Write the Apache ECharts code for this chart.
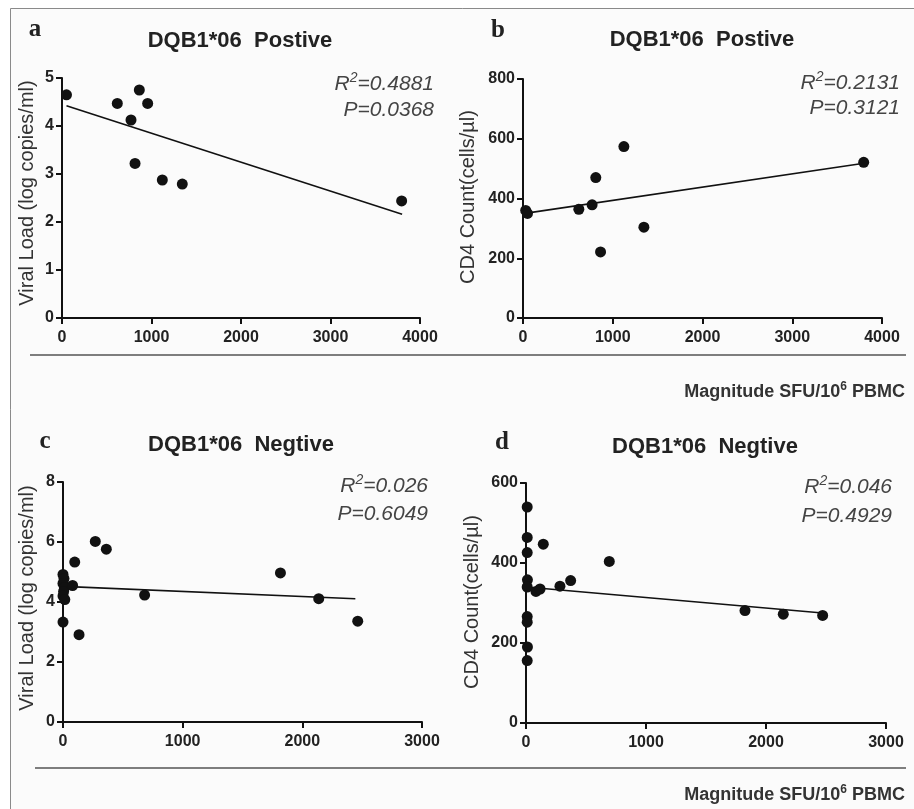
<!DOCTYPE html>
<html><head><meta charset="utf-8">
<script src="https://cdn.jsdelivr.net/npm/echarts@6/dist/echarts.min.js"></script>
<style>html,body{margin:0;padding:0;background:#fff}#c{width:914px;height:809px}</style>
</head><body><div id="c"></div>
<script>
// ---- data ----
var titles = ['DQB1*06  Postive', 'DQB1*06  Postive', 'DQB1*06  Negtive', 'DQB1*06  Negtive'];
var panelLetters = ['a', 'b', 'c', 'd'];
var yNames = ['Viral Load (log copies/ml)', 'CD4 Count(cells/\u00b5l)', 'Viral Load (log copies/ml)', 'CD4 Count(cells/\u00b5l)'];
var r2Text = ['0.4881', '0.2131', '0.026', '0.046'];
var pText = ['0.0368', '0.3121', '0.6049', '0.4929'];
var xMax = [4000, 4000, 3000, 3000];
var xInterval = [1000, 1000, 1000, 1000];
var yMax = [5, 800, 8, 600];
var yInterval = [1, 200, 2, 200];

var aSFU = [50, 618, 771, 816, 864, 957, 1121, 1344, 3795];
var aVL  = [4.65, 4.47, 4.125, 3.22, 4.75, 4.47, 2.875, 2.79, 2.44];
var aFitX = [50, 3800];
var aFitY = [4.42, 2.16];

var bSFU = [30, 50, 622, 770, 811, 864, 1124, 1347, 3796];
var bCD4 = [360, 350, 364, 379, 470, 221, 574, 304, 521];
var bFitX = [40, 3800];
var bFitY = [351, 518];

var cSFU = [0, 8, 0, 12, 5, 0, 15, 0, 80, 98, 134, 270, 362, 682, 1817, 2137, 2463];
var cVL  = [4.92, 4.78, 4.62, 4.48, 4.35, 4.2, 4.08, 3.33, 4.55, 5.33, 2.91, 6.02, 5.76, 4.23, 4.97, 4.11, 3.36];
var cFitX = [0, 2443];
var cFitY = [4.52, 4.11];

var dSFU = [10, 10, 10, 12, 10, 10, 10, 12, 10, 83, 117, 144, 283, 372, 694, 1825, 2144, 2472];
var dCD4 = [540, 464, 426, 358, 340, 266, 252, 190, 156, 329, 335, 447, 342, 356, 404, 281, 272, 269];
var dFitX = [0, 2472];
var dFitY = [340, 275];

var xTitle = 'Magnitude SFU/10';
// ---- build ----
function pairs(xs, ys) { return xs.map(function (x, i) { return [x, ys[i]]; }); }
var scatterData = [pairs(aSFU, aVL), pairs(bSFU, bCD4), pairs(cSFU, cVL), pairs(dSFU, dCD4)];
var fitData = [pairs(aFitX, aFitY), pairs(bFitX, bFitY), pairs(cFitX, cFitY), pairs(dFitX, dFitY)];

var grids = [
  {left: 62, top: 78, width: 358, height: 240},
  {left: 523, top: 79, width: 359, height: 239},
  {left: 63, top: 482, width: 359, height: 240},
  {left: 526, top: 483, width: 360, height: 240}
];
var layout = [
  {title: [240, 41], letter: [35, 30], yname: [27, 193], ann: [434, 84, 110]},
  {title: [702, 40], letter: [498, 31], yname: [468, 197], ann: [900, 83, 108]},
  {title: [241, 445], letter: [45, 442], yname: [27, 598], ann: [428, 486, 514]},
  {title: [705, 447], letter: [502, 443], yname: [472, 602], ann: [892, 487, 516]}
];
var axisCol = '#111';
var FF = 'Liberation Sans, Arial, sans-serif';
var labelStyle = {color: '#222', fontSize: 16, fontWeight: 'bold', fontFamily: FF,
  formatter: function (v) { return String(v); }};
var xAxes = [], yAxes = [], series = [];
var graphics = [
  {type: 'rect', z: -10, shape: {x: 10.5, y: 8.5, width: 920, height: 820}, style: {fill: '#fbfbfb', stroke: '#8a8a8a', lineWidth: 1}},
  {type: 'line', shape: {x1: 30, y1: 355, x2: 906, y2: 355}, style: {stroke: '#555', lineWidth: 1.5}},
  {type: 'line', shape: {x1: 35, y1: 768, x2: 906, y2: 768}, style: {stroke: '#555', lineWidth: 1.5}}
];
[392, 795].forEach(function (yy) {
  graphics.push({type: 'text', x: 905, y: yy, style: {
    text: '{t|' + xTitle + '}{s|6}{t| PBMC}', align: 'right', verticalAlign: 'middle',
    rich: {t: {fontSize: 18, fontFamily: FF, fill: '#333', fontWeight: 'bold'},
           s: {fontSize: 12, fontFamily: FF, fill: '#333', fontWeight: 'bold', padding: [0, 0, 11, 0]}}
  }});
});
for (var i = 0; i < 4; i++) {
  xAxes.push({
    type: 'value', gridIndex: i, min: 0, max: xMax[i], interval: xInterval[i],
    axisLine: {onZero: false, lineStyle: {color: axisCol, width: 2}},
    axisTick: {inside: false, length: 6, lineStyle: {color: axisCol, width: 2}},
    axisLabel: Object.assign({margin: 12}, labelStyle),
    splitLine: {show: false}
  });
  yAxes.push({
    type: 'value', gridIndex: i, min: 0, max: yMax[i], interval: yInterval[i],
    axisLine: {show: true, onZero: false, lineStyle: {color: axisCol, width: 2}},
    axisTick: {show: true, inside: false, length: 6, lineStyle: {color: axisCol, width: 2}},
    axisLabel: Object.assign({margin: 8}, labelStyle),
    splitLine: {show: false}
  });
  series.push({
    type: 'scatter', xAxisIndex: i, yAxisIndex: i, data: scatterData[i],
    symbol: 'circle', symbolSize: 11, itemStyle: {color: '#111', opacity: 1}, z: 3
  });
  series.push({
    type: 'line', xAxisIndex: i, yAxisIndex: i, data: fitData[i],
    symbol: 'none', lineStyle: {color: '#111', width: 1.6}, z: 2
  });
  var L = layout[i];
  graphics.push({type: 'text', x: L.title[0], y: L.title[1], style: {
    text: titles[i], align: 'center', verticalAlign: 'middle',
    font: 'bold 22px "Liberation Sans", Arial, sans-serif', fill: '#222'}});
  graphics.push({type: 'text', x: L.letter[0], y: L.letter[1], style: {
    text: panelLetters[i], align: 'center', verticalAlign: 'middle',
    font: 'bold 25px "Liberation Serif", "Times New Roman", serif', fill: '#222'}});
  graphics.push({type: 'text', x: L.yname[0], y: L.yname[1], rotation: Math.PI / 2, style: {
    text: yNames[i], align: 'center', verticalAlign: 'middle',
    font: '20px "Liberation Sans", Arial, sans-serif', fill: '#333'}});
  graphics.push({type: 'text', x: L.ann[0], y: L.ann[1], style: {
    text: '{t|R}{s|2}{t|=' + r2Text[i] + '}', align: 'right', verticalAlign: 'middle',
    rich: {t: {fontSize: 21, fontStyle: 'italic', fontFamily: FF, fill: '#444'},
           s: {fontSize: 14, fontStyle: 'italic', fontFamily: FF, fill: '#444', padding: [0, 0, 12, 0]}}}});
  graphics.push({type: 'text', x: L.ann[0], y: L.ann[2], style: {
    text: 'P=' + pText[i], align: 'right', verticalAlign: 'middle',
    font: 'italic 21px "Liberation Sans", Arial, sans-serif', fill: '#444'}});
}
var chart = echarts.init(document.getElementById('c'), null, {renderer: 'canvas'});
chart.setOption({
  backgroundColor: '#ffffff',
  animation: false,
  grid: grids,
  xAxis: xAxes,
  yAxis: yAxes,
  series: series,
  graphic: graphics
});
</script></body></html>
